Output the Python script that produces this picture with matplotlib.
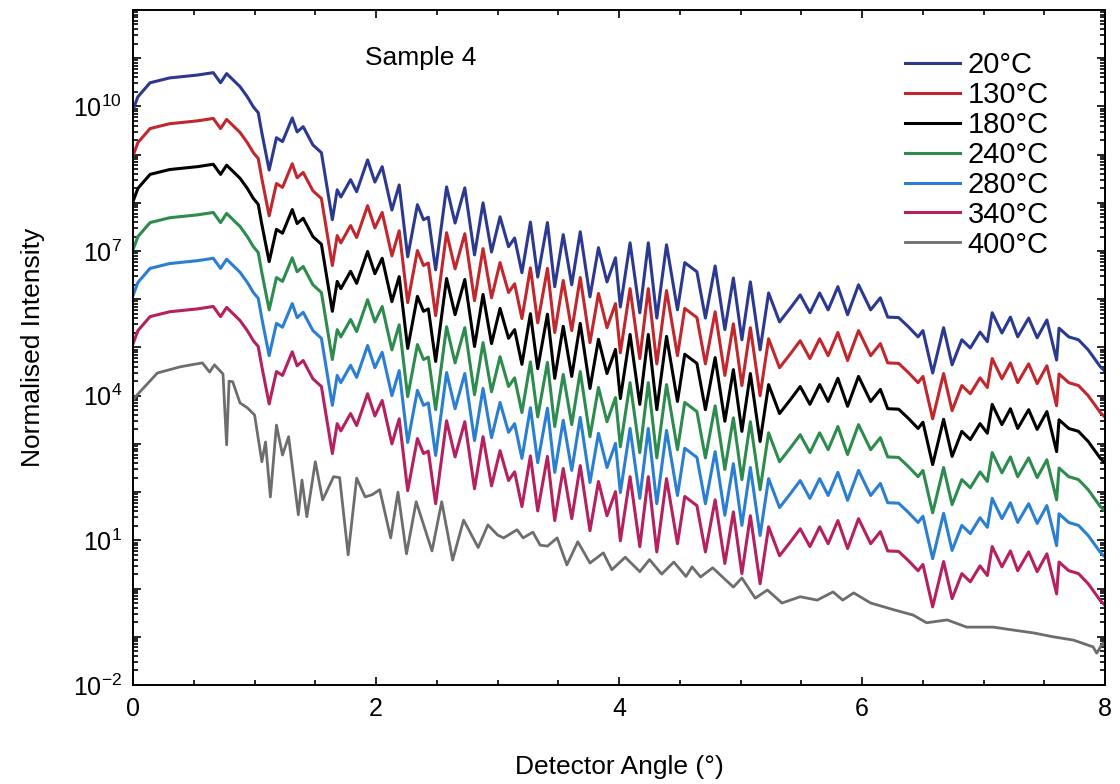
import numpy as np
import matplotlib
matplotlib.use('Agg')
import matplotlib.pyplot as plt
from matplotlib.ticker import FixedLocator, LogLocator, FuncFormatter, MultipleLocator, NullFormatter

plt.rcParams['font.family'] = ['Liberation Sans', 'DejaVu Sans']
plt.rcParams['mathtext.default'] = 'regular'

# 20 C reflectivity profile: vertices (angle in deg, log10 intensity)
angle_20 = [0.00, 0.04, 0.14, 0.30, 0.53, 0.66, 0.72, 0.77, 0.88, 0.94, 0.99, 1.03, 1.06, 1.12,
            1.18, 1.23, 1.31, 1.35, 1.40, 1.48, 1.55, 1.64, 1.68, 1.71, 1.79, 1.84, 1.93, 1.99,
            2.05, 2.13, 2.19, 2.26, 2.34, 2.39, 2.43, 2.49, 2.58, 2.65, 2.73, 2.81, 2.88, 2.95,
            3.02, 3.09, 3.14, 3.20, 3.27, 3.33, 3.41, 3.47, 3.54, 3.61, 3.68, 3.76, 3.83, 3.90,
            3.97, 4.01, 4.09, 4.17, 4.24, 4.31, 4.39, 4.48, 4.54, 4.64, 4.71, 4.79, 4.87, 4.94,
            5.01, 5.08, 5.16, 5.23, 5.32, 5.41, 5.49, 5.57, 5.65, 5.72, 5.80, 5.88, 5.97, 6.07,
            6.15, 6.21, 6.30, 6.38, 6.46, 6.50, 6.58, 6.67, 6.74, 6.82, 6.89, 6.97, 7.03, 7.07,
            7.15, 7.22, 7.28, 7.37, 7.44, 7.52, 7.60, 7.62, 7.70, 7.78, 7.86, 7.96, 8.00]
log_20 = [9.93, 10.20, 10.49, 10.59, 10.65, 10.70, 10.49, 10.68, 10.41, 10.20, 9.99, 9.87, 9.45, 8.68,
          9.35, 9.27, 9.76, 9.47, 9.58, 9.20, 9.04, 7.65, 8.27, 8.12, 8.48, 8.23, 8.89, 8.43,
          8.75, 7.85, 8.37, 6.88, 7.96, 7.65, 7.70, 6.61, 8.33, 7.58, 8.31, 6.92, 8.00, 6.98,
          7.71, 7.09, 7.27, 6.55, 7.60, 6.46, 7.59, 6.26, 7.34, 6.30, 7.40, 6.05, 7.07, 6.36,
          6.86, 5.84, 7.17, 5.72, 7.17, 5.61, 7.13, 5.78, 6.76, 6.57, 5.61, 6.69, 5.37, 6.44,
          5.16, 6.36, 4.95, 6.13, 5.53, 5.82, 6.09, 5.72, 6.13, 5.78, 6.26, 5.68, 6.30, 5.78,
          6.03, 5.63, 5.62, 5.43, 5.22, 5.35, 4.47, 5.41, 4.64, 5.16, 4.99, 5.32, 5.12, 5.72,
          5.30, 5.63, 5.22, 5.61, 5.20, 5.57, 4.74, 5.40, 5.22, 5.16, 4.95, 4.60, 4.50]

# stacked curves 20-340 C share the fringe profile, shifted down by these decades
labels = ['20°C', '130°C', '180°C', '240°C', '280°C', '340°C', '400°C']
shift_decades = [0.0, 0.95, 1.9, 2.9, 3.85, 4.85]
colors = ['#2b3990', '#c1272d', '#000000', '#2e8b4e', '#2b7fd2', '#b5205f', '#6d6d6d']

# 400 C curve
angle_400 = [0.00, 0.02, 0.20, 0.39, 0.57, 0.63, 0.67, 0.74, 0.77, 0.79, 0.82, 0.88, 0.94, 1.00,
             1.06, 1.09, 1.13, 1.18, 1.23, 1.28, 1.36, 1.39, 1.43, 1.50, 1.56, 1.60, 1.65, 1.70,
             1.77, 1.84, 1.91, 1.97, 2.03, 2.12, 2.18, 2.25, 2.33, 2.46, 2.54, 2.63, 2.72, 2.84,
             2.92, 3.00, 3.05, 3.16, 3.21, 3.29, 3.35, 3.41, 3.49, 3.57, 3.66, 3.76, 3.87, 3.94,
             4.05, 4.17, 4.25, 4.35, 4.45, 4.55, 4.60, 4.67, 4.77, 4.94, 5.01, 5.12, 5.22, 5.34,
             5.49, 5.63, 5.76, 5.84, 5.93, 6.07, 6.26, 6.42, 6.53, 6.70, 6.86, 7.08, 7.24, 7.41,
             7.57, 7.74, 7.90, 7.93, 7.98, 8.00]
log_400 = [3.90, 3.98, 4.47, 4.60, 4.68, 4.49, 4.64, 4.45, 2.98, 4.30, 4.29, 3.85, 3.75, 3.60,
           2.63, 3.04, 1.90, 3.39, 2.77, 3.15, 1.53, 2.25, 1.49, 2.63, 1.84, 2.05, 2.32, 2.30,
           0.70, 2.29, 1.90, 1.95, 2.05, 1.05, 2.00, 0.72, 1.80, 0.78, 1.80, 0.59, 1.42, 0.85,
           1.32, 1.11, 1.05, 1.22, 1.05, 1.17, 0.90, 0.88, 1.05, 0.49, 0.97, 0.53, 0.74, 0.39,
           0.65, 0.35, 0.60, 0.30, 0.55, 0.25, 0.45, 0.24, 0.43, 0.03, 0.22, -0.20, -0.03, -0.30,
           -0.17, -0.24, -0.07, -0.24, -0.09, -0.30, -0.44, -0.55, -0.71, -0.65, -0.80, -0.80, -0.86, -0.92,
           -1.00, -1.07, -1.21, -1.34, -1.13, -1.20]

fig = plt.figure(figsize=(11.2, 7.84), dpi=100)
ax = fig.add_axes([0.1188, 0.1263, 0.868, 0.861])

x20 = np.array(angle_20)
y20 = np.array(log_20)
for i, s in enumerate(shift_decades):
    ax.plot(x20, 10 ** (y20 - s), color=colors[i], lw=2.2, label=labels[i], solid_joinstyle='round')
ax.plot(angle_400, 10 ** np.array(log_400), color=colors[6], lw=2.0, label=labels[6], solid_joinstyle='round')

ax.set_yscale('log')
ax.set_xlim(0, 8)
ax.set_ylim(1e-2, 1e12)

ax.xaxis.set_major_locator(MultipleLocator(2))
ax.xaxis.set_minor_locator(MultipleLocator(0.5))
ax.yaxis.set_major_locator(FixedLocator([10.0 ** k for k in range(-2, 13)]))
ax.yaxis.set_minor_locator(LogLocator(base=10, subs=np.arange(2, 10), numticks=40))
ax.yaxis.set_minor_formatter(NullFormatter())


def ylab(v, pos):
    k = int(round(np.log10(v)))
    if k in (-2, 1, 4, 7, 10):
        return '$10^{%d}$' % k
    return ''


ax.yaxis.set_major_formatter(FuncFormatter(ylab))
ax.tick_params(which='both', direction='in', top=True, right=True, width=1.2)
ax.tick_params(which='major', length=6, labelsize=18)
ax.tick_params(which='minor', length=3.5)
ax.tick_params(axis='y', pad=8)
ax.tick_params(axis='x', pad=9)
for sp in ax.spines.values():
    sp.set_linewidth(1.4)

ax.set_xlabel('Detector Angle (°)', fontsize=19, labelpad=24)
ax.set_ylabel('Normalised Intensity', fontsize=19, labelpad=20)
ax.text(0.239, 0.929, 'Sample 4', transform=ax.transAxes, fontsize=19, va='center', ha='left')

ax.legend(loc='upper left', bbox_to_anchor=(0.794, 0.939), frameon=False, fontsize=21,
          handlelength=1.9, handletextpad=0.25, labelspacing=0.065, borderpad=0, borderaxespad=0)

plt.savefig('out.png', dpi=100)
